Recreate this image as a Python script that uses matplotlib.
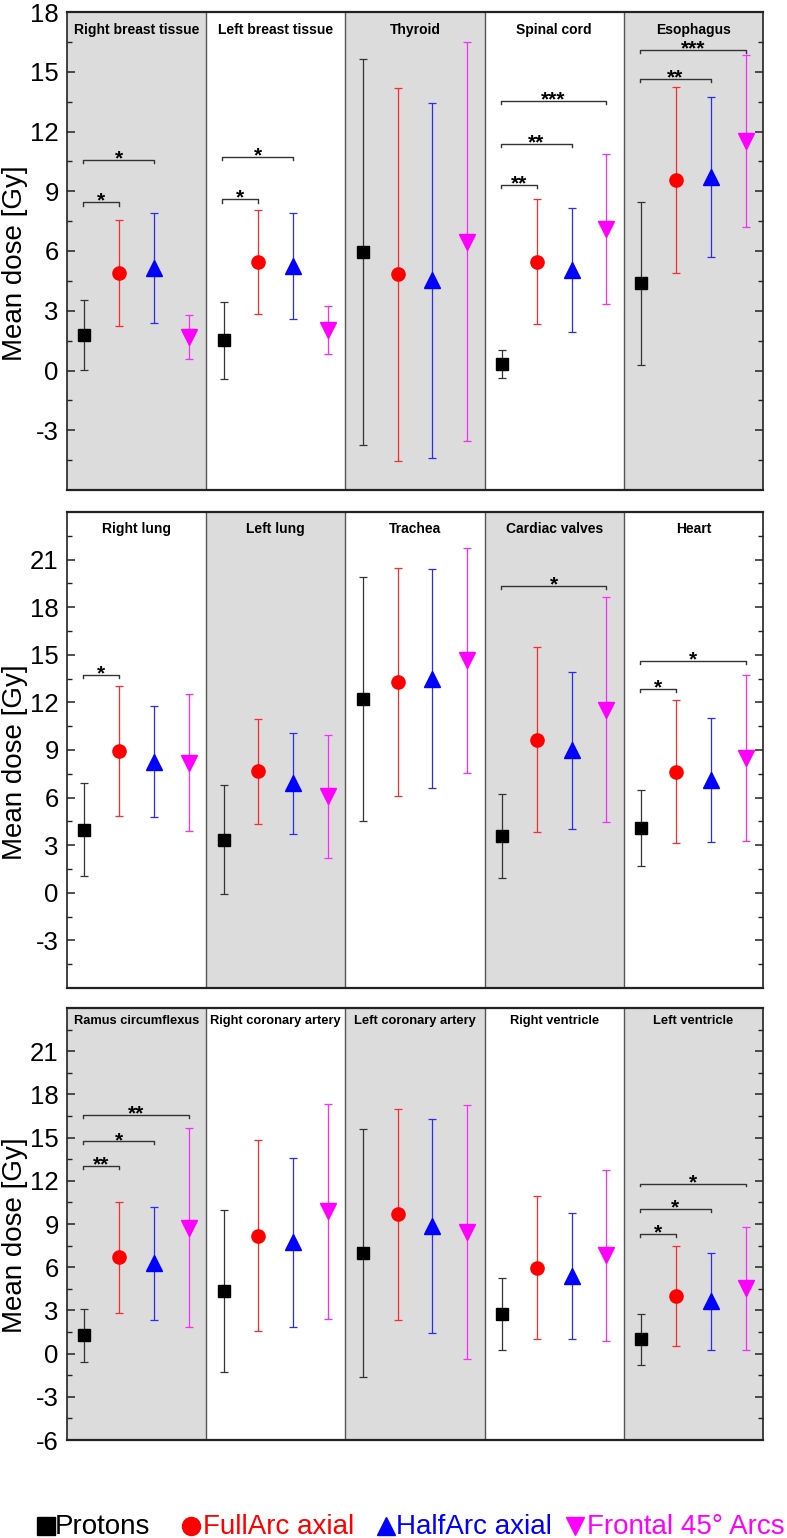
import numpy as np
import matplotlib.pyplot as plt
from matplotlib.lines import Line2D

plt.rcParams['font.family'] = ['Liberation Sans', 'DejaVu Sans']

# organs, 5 per panel
organs = ['Right breast tissue', 'Left breast tissue', 'Thyroid', 'Spinal cord', 'Esophagus',
          'Right lung', 'Left lung', 'Trachea', 'Cardiac valves', 'Heart',
          'Ramus circumflexus', 'Right coronary artery', 'Left coronary artery',
          'Right ventricle', 'Left ventricle']

# mean dose [Gy] and standard deviation per technique
protons = [1.8, 1.52, 5.95, 0.33, 4.38, 3.96, 3.35, 12.22, 3.57, 4.11, 1.26, 4.33, 6.97, 2.74, 0.98]
protons_sd = [1.75, 1.94, 9.68, 0.71, 4.08, 2.93, 3.43, 7.68, 2.65, 2.39, 1.86, 5.61, 8.6, 2.51, 1.8]
fullarc = [4.9, 5.45, 4.84, 5.45, 9.56, 8.94, 7.65, 13.28, 9.66, 7.64, 6.7, 8.17, 9.66, 5.96, 3.99]
fullarc_sd = [2.67, 2.6, 9.36, 3.14, 4.67, 4.11, 3.32, 7.21, 5.85, 4.48, 3.86, 6.63, 7.3, 4.97, 3.48]
halfarc = [5.14, 5.25, 4.52, 5.04, 9.7, 8.26, 6.89, 13.48, 8.98, 7.13, 6.27, 7.72, 8.88, 5.41, 3.63]
halfarc_sd = [2.76, 2.65, 8.91, 3.13, 4.02, 3.5, 3.18, 6.9, 4.96, 3.9, 3.91, 5.87, 7.42, 4.37, 3.35]
frontal = [1.68, 2.05, 6.47, 7.12, 11.52, 8.21, 6.07, 14.65, 11.53, 8.51, 8.75, 9.89, 8.44, 6.82, 4.53]
frontal_sd = [1.12, 1.21, 10.0, 3.77, 4.33, 4.32, 3.89, 7.09, 7.09, 5.22, 6.9, 7.46, 8.79, 5.94, 4.25]

labels = ['Protons', 'FullArc axial', 'HalfArc axial', 'Frontal 45° Arcs']

# significance vs protons: (organ, technique index, stars, bracket height)
sig = [(0, 1, '*', 8.44), (0, 2, '*', 10.55), (1, 1, '*', 8.59), (1, 2, '*', 10.7),
       (3, 1, '**', 9.3), (3, 2, '**', 11.39), (3, 3, '***', 13.52),
       (4, 2, '**', 14.66), (4, 3, '***', 16.08),
       (5, 1, '*', 13.75), (8, 3, '*', 19.33), (9, 1, '*', 12.85), (9, 3, '*', 14.61),
       (10, 1, '**', 13.0), (10, 2, '*', 14.73), (10, 3, '**', 16.54),
       (14, 1, '*', 8.28), (14, 2, '*', 10.04), (14, 3, '*', 11.8)]

means = [protons, fullarc, halfarc, frontal]
sds = [protons_sd, fullarc_sd, halfarc_sd, frontal_sd]
colors = ['black', '#ff0000', '#0000ff', '#ff00ff']
ecolors = ['#333333', '#ff2a2a', '#2a2aff', '#ff2aff']
markers = ['s', 'o', '^', 'v']
msizes = [8.5, 9.5, 11, 11]

fig = plt.figure(figsize=(7.87, 15.38), dpi=100)
W, H = 787, 1538
boxes = [(12, 490), (512, 988), (1008, 1440)]
ylims = [(-6, 18), (-6, 24), (-6, 24)]
tick_labels = [range(-3, 19, 3), range(-3, 22, 3), range(-6, 22, 3)]
title_off = [-13, -12.5, -9.5]
title_fs = [10, 10, 9.3]

for p in range(3):
    top, bot = boxes[p]
    ax = fig.add_axes([67 / W, 1 - bot / H, 696 / W, (bot - top) / H])
    ax.set_xlim(0, 5)
    ax.set_ylim(*ylims[p])
    ymin, ymax = ylims[p]

    for k in range(5):
        i = p * 5 + k
        if i % 2 == 0:
            ax.axvspan(k, k + 1, color='#dcdcdc', zorder=0, lw=0)
        if k > 0:
            ax.axvline(k, color='#555555', lw=1.0, zorder=1)
        ax.annotate(organs[i], xy=(k + 0.5, 1), xycoords=('data', 'axes fraction'),
                    xytext=(0, title_off[p]), textcoords='offset points',
                    ha='center', va='center', fontsize=title_fs[p], fontweight='bold')
        for j in range(4):
            x = k + 0.125 + 0.25 * j
            ax.errorbar(x, means[j][i], yerr=sds[j][i], fmt=markers[j], color=colors[j],
                        ecolor=ecolors[j], ms=msizes[j], elinewidth=0.9, capsize=2.6,
                        capthick=0.9, zorder=3)

    dy = 0.0065 * (ymax - ymin)
    for (i, j, stars, y) in sig:
        if i // 5 != p:
            continue
        k = i % 5
        x0 = k + 0.125 - 0.01
        x1 = k + 0.125 + 0.25 * j
        ax.plot([x0, x0, x1, x1], [y - dy, y, y, y - dy], color='#333333', lw=1.0, zorder=2)
        ax.annotate(stars, xy=((x0 + x1) / 2, y), xytext=(0, -3.2), textcoords='offset points',
                    ha='center', va='baseline', fontsize=15, fontweight='bold')

    ticks = list(range(ymin, ymax + 1, 3))
    ax.set_yticks(ticks)
    ax.set_yticklabels([str(t) if t in tick_labels[p] else '' for t in ticks])
    ax.set_yticks(np.arange(ymin, ymax + 0.1, 1.5), minor=True)
    ax.set_xticks([])
    ax.tick_params(axis='y', which='both', direction='in', right=True, labelsize=18.5, pad=6,
                   color='#222222')
    ax.tick_params(axis='y', which='major', length=6, width=1.1)
    ax.tick_params(axis='y', which='minor', length=3.5, width=1.0)
    for s in ['top', 'bottom']:
        ax.spines[s].set_linewidth(1.6)
    for s in ['left', 'right']:
        ax.spines[s].set_linewidth(1.2)
    for s in ax.spines.values():
        s.set_color('#222222')
    ax.set_ylabel('Mean dose [Gy]', fontsize=20)
    ax.yaxis.set_label_coords(-0.056, 0.475)

# legend: marker + coloured label
mark_x = [46, 191, 386, 575]
text_x = [55, 203, 396, 587]
ly = 1 - 1527 / H
for j in range(4):
    fig.add_artist(Line2D([mark_x[j] / W], [ly + 0.0004], marker=markers[j], color=colors[j],
                          ms=13, ls='none', transform=fig.transFigure))
    fig.text(text_x[j] / W, ly, labels[j], color=colors[j],
             fontsize=20, ha='left', va='center')

fig.savefig('out.png', dpi=100)
